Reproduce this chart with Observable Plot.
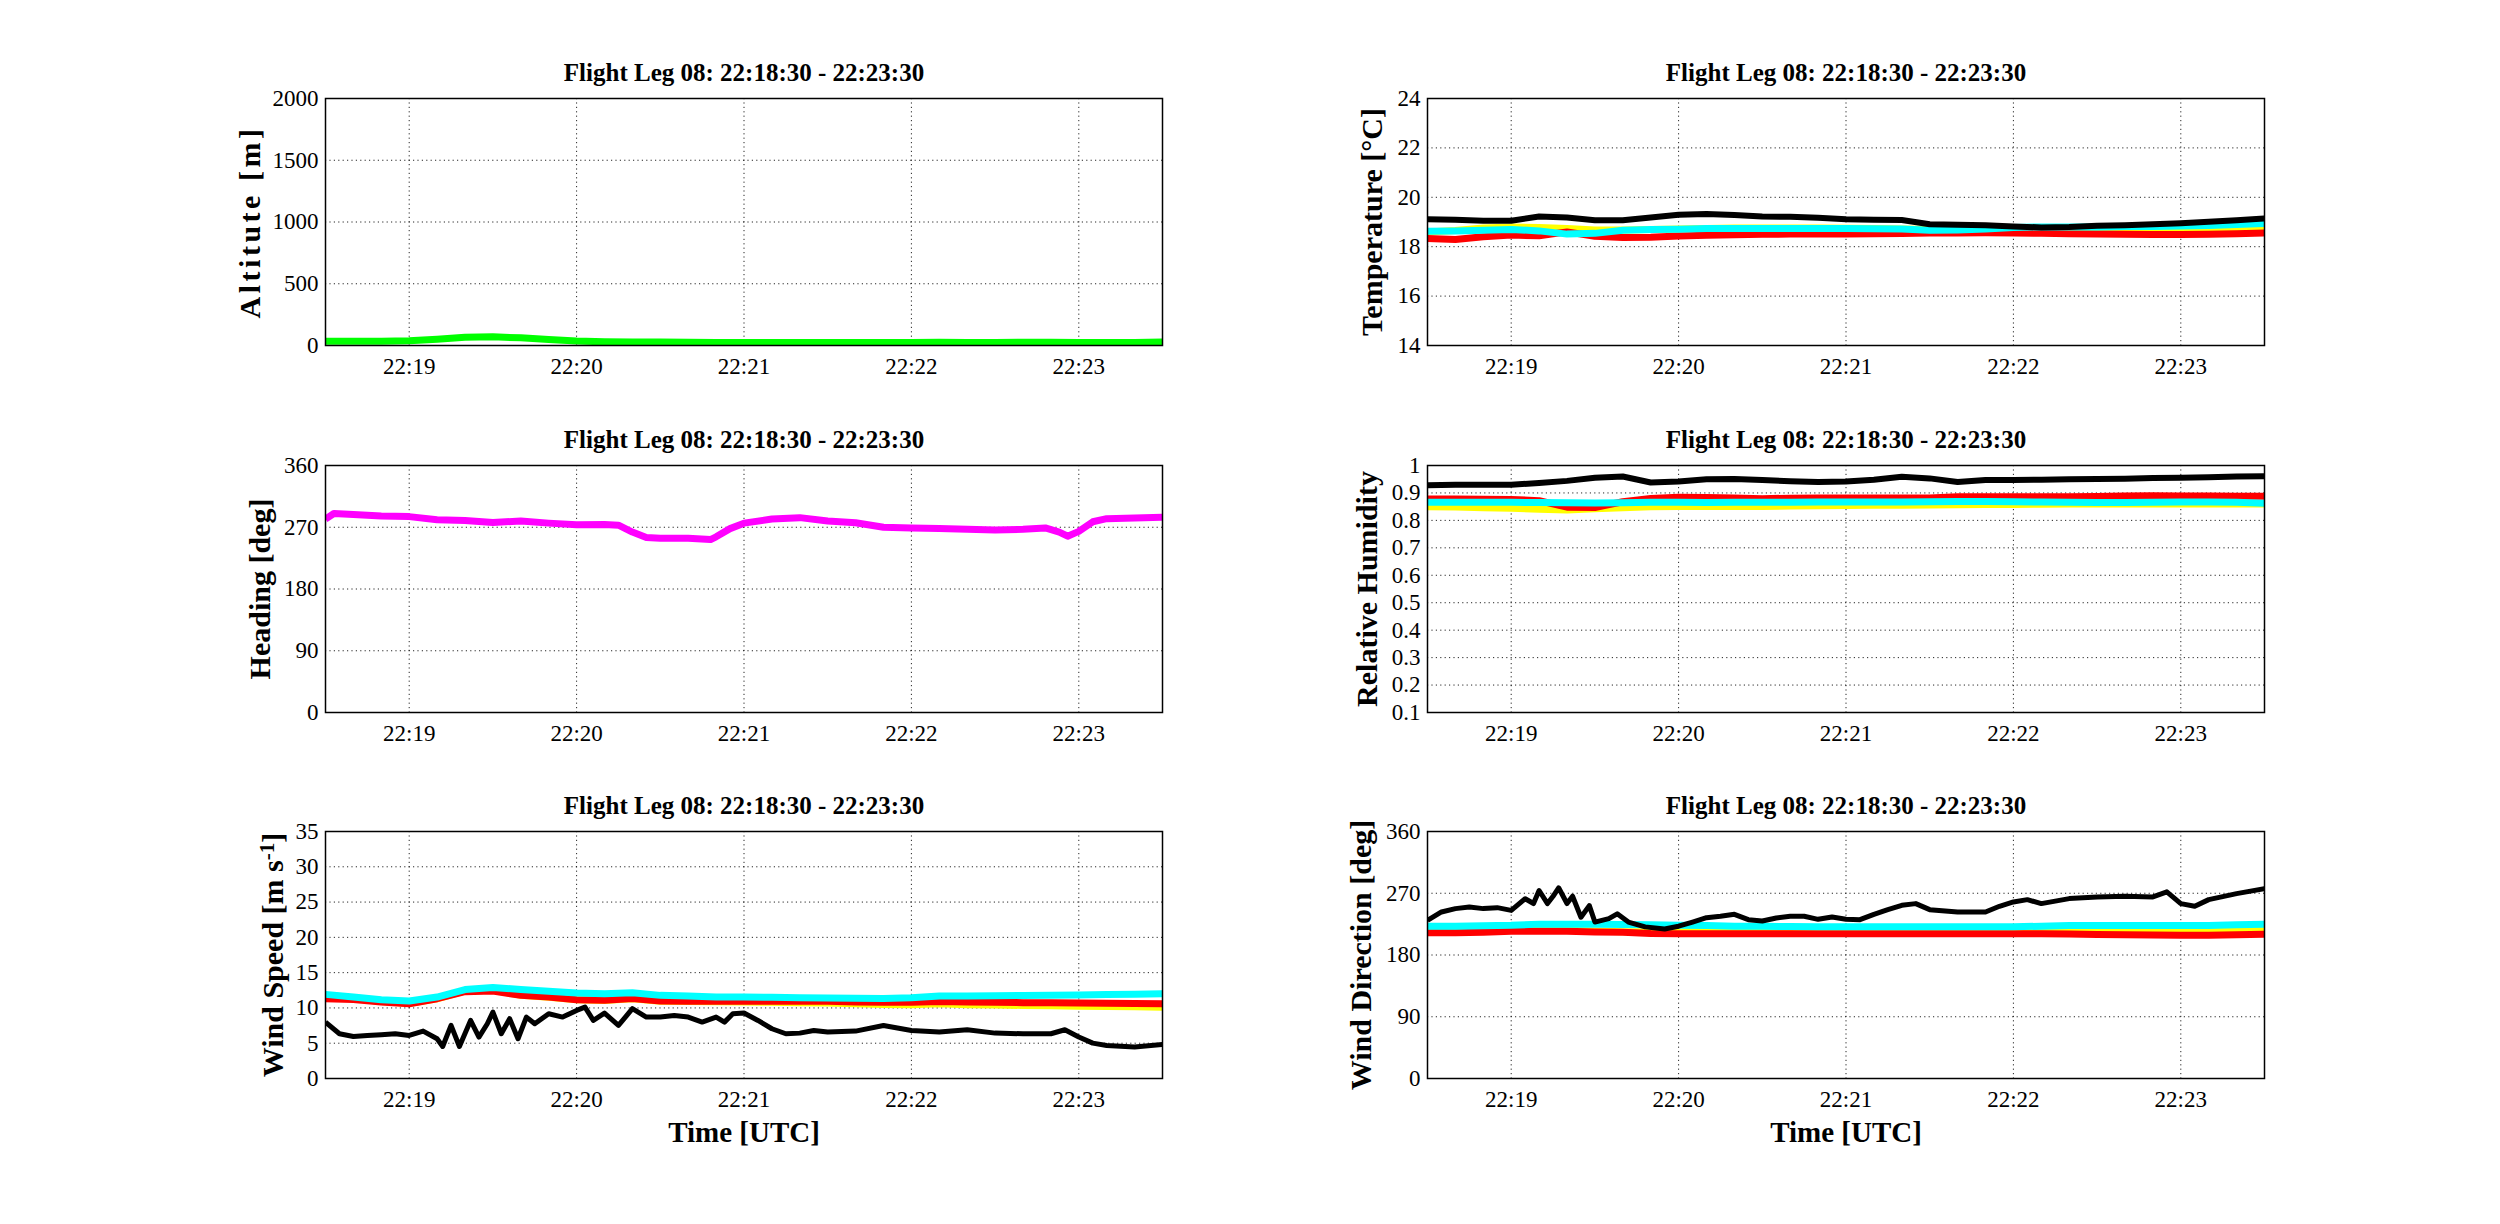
<!DOCTYPE html>
<html lang="en">
<head>
<meta charset="UTF-8">
<title>Flight Leg 08</title>
<script src="https://cdn.jsdelivr.net/npm/d3@7"></script>
<script src="https://cdn.jsdelivr.net/npm/@observablehq/plot@0.6"></script>
<style>
  body { margin: 0; background: #fff; }
  #page { position: relative; width: 2500px; height: 1224px; background: #fff; overflow: hidden; }
  .panel { position: absolute; }
</style>
</head>
<body>
<div id="page"></div>
<script>
// seconds after 22:18:30, and values
const legTitle = "Flight Leg 08: 22:18:30 - 22:23:30";
const minuteTicks = ["22:19", "22:20", "22:21", "22:22", "22:23"];

const sec10 = [0,10,20,30,40,50,60,70,80,90,100,110,120,130,140,150,160,170,180,190,200,210,220,230,240,250,260,270,280,290,300];

const altitude = [35,35,35,38,50,66,70,62,48,36,30,28,28,26,25,24,24,24,24,24,24,25,27,25,25,26,26,25,24,25,28];

const headingSec = [0,3,10,20,30,40,50,60,70,80,90,100,105,110,115,120,130,138,140,145,150,160,170,180,190,200,210,220,230,240,250,258,263,266,270,275,280,290,300];
const heading = [282,290,288.5,286.5,285.5,281,280,277,279,276,273.5,274,273,263,255,254,254,252,256,268,276,282,284,279,276.5,270,269,268,267,266,267,269,263,257,264,278,282.5,283.5,284.5];

const tempBlack  = [19.11,19.09,19.05,19.05,19.22,19.18,19.07,19.07,19.18,19.29,19.32,19.28,19.22,19.21,19.17,19.11,19.09,19.08,18.91,18.89,18.87,18.82,18.78,18.80,18.85,18.87,18.91,18.95,19.01,19.07,19.14];
const tempCyan   = [18.63,18.64,18.67,18.70,18.64,18.51,18.54,18.67,18.70,18.71,18.74,18.74,18.74,18.74,18.74,18.74,18.73,18.72,18.67,18.68,18.72,18.78,18.80,18.80,18.80,18.82,18.82,18.84,18.86,18.90,18.94];
const tempYellow = [18.60,18.66,18.76,18.80,18.78,18.74,18.68,18.68,18.70,18.72,18.74,18.76,18.76,18.76,18.76,18.75,18.74,18.72,18.70,18.68,18.68,18.68,18.68,18.68,18.68,18.70,18.70,18.72,18.74,18.76,18.78];
const tempRed    = [18.33,18.29,18.40,18.47,18.44,18.60,18.42,18.37,18.38,18.43,18.46,18.48,18.50,18.51,18.51,18.51,18.52,18.53,18.55,18.55,18.56,18.55,18.54,18.52,18.51,18.50,18.49,18.49,18.50,18.52,18.56];

const rhBlack  = [0.928,0.930,0.930,0.930,0.936,0.944,0.955,0.960,0.938,0.942,0.950,0.951,0.947,0.943,0.940,0.942,0.948,0.959,0.953,0.940,0.947,0.947,0.948,0.950,0.951,0.952,0.954,0.955,0.957,0.960,0.961];
const rhRed    = [0.878,0.878,0.877,0.876,0.872,0.848,0.847,0.868,0.880,0.884,0.883,0.882,0.879,0.881,0.882,0.882,0.882,0.882,0.882,0.886,0.886,0.886,0.886,0.886,0.887,0.889,0.890,0.889,0.889,0.888,0.888];
const rhCyan   = [0.866,0.866,0.866,0.866,0.865,0.864,0.863,0.864,0.866,0.866,0.865,0.866,0.866,0.866,0.867,0.867,0.867,0.867,0.868,0.869,0.869,0.868,0.867,0.866,0.865,0.865,0.866,0.867,0.867,0.866,0.862];
const rhYellow = [0.850,0.849,0.846,0.844,0.841,0.838,0.842,0.846,0.850,0.851,0.851,0.851,0.851,0.852,0.853,0.854,0.855,0.855,0.856,0.857,0.858,0.858,0.859,0.860,0.860,0.860,0.860,0.860,0.860,0.860,0.860];

const wsCyan   = [11.92,11.54,11.16,10.97,11.54,12.60,12.90,12.60,12.35,12.11,12.01,12.16,11.78,11.68,11.54,11.54,11.50,11.45,11.40,11.38,11.35,11.44,11.68,11.70,11.73,11.75,11.78,11.82,11.92,11.95,12.01];
const wsRed    = [11.31,11.20,10.83,10.60,11.31,12.30,12.40,11.78,11.54,11.16,11.10,11.35,10.97,10.95,10.93,10.93,10.93,10.93,10.93,10.85,10.79,10.79,10.90,10.85,10.79,10.75,10.72,10.69,10.65,10.62,10.60];
const wsYellow = [11.50,11.30,10.90,10.62,11.30,12.40,12.50,11.80,11.50,11.15,11.05,11.30,10.95,10.90,10.88,10.85,10.80,10.75,10.70,10.60,10.50,10.45,10.60,10.45,10.40,10.35,10.30,10.25,10.20,10.15,10.10];
const wsBlackSec = [0,5,10,15,20,25,30,35,40,42,45,48,52,55,58,60,63,66,69,72,75,80,85,90,93,96,100,105,110,115,120,125,130,135,140,143,146,150,155,160,165,170,175,180,190,200,210,220,230,240,250,260,265,270,275,280,290,300];
const wsBlack = [7.99,6.34,5.96,6.10,6.20,6.34,6.10,6.72,5.63,4.54,7.52,4.54,8.23,5.87,7.76,9.41,6.34,8.47,5.63,8.70,7.76,9.18,8.70,9.65,10.12,8.23,9.27,7.52,9.89,8.70,8.70,8.94,8.70,7.99,8.70,7.99,9.18,9.27,8.23,7.05,6.34,6.43,6.81,6.58,6.72,7.52,6.81,6.58,6.91,6.43,6.34,6.34,6.91,5.87,5.01,4.68,4.45,4.82];

const wdCyan   = [221.8,222,222.5,223.2,225,225,225,224.5,224,223.5,223,222,221.8,221.5,221,221,221,221,221,221,221,221,222,223,223,223,223,223,223,224,224.7];
const wdRed    = [212.5,212.5,213,214.5,214.5,214.5,213.5,213,211.5,211.1,211.1,211.1,211.1,211.1,211.1,211.1,211.1,211.1,211.1,211.1,211.1,211,210.8,210.5,210,209.5,209,208.7,208.7,209.5,210.1];
const wdYellow = [215,215,215,216,216,216,215,214,214,214,214,214,214,214,214,214,214,214,214,214,214,214,214,215,215,216,216,217,217,217,217];
const wdBlackSec = [0,5,10,15,20,25,30,35,38,40,43,45,47,50,52,55,58,60,65,68,72,78,85,90,95,100,105,110,115,120,125,130,135,140,145,150,155,160,165,170,175,180,190,200,205,210,215,220,230,240,250,260,265,270,275,280,290,300];
const wdBlack = [230.5,242.7,247.6,250,247.6,249,245,262,255,274,255,265.6,278,255,265.6,235,252,228,233,240,228,221,218,222,228,234.4,236.4,239.3,231.5,229.6,234,236.4,236.4,232,235.4,232,231.5,239.3,246.1,252.4,254.9,246.1,242.7,242.7,251,257.3,260.7,254.9,262.2,264.6,265.6,264.6,272,254.9,251,260.7,269.5,276.8];

const t0 = Date.UTC(2013, 0, 1, 22, 18, 30);
const toDate = s => new Date(t0 + s * 1000);
const xTicks = minuteTicks.map(m => new Date(Date.UTC(2013, 0, 1, +m.slice(0, 2), +m.slice(3))));
const series = (secs, vals, color, w) => ({data: secs.map((s, i) => ({t: toDate(s), v: vals[i]})), color, w});

const fontFamily = "'Liberation Serif', 'Times New Roman', serif";
const frameW = 837, frameH = 247;
const mL = 200, mR = 25, mT = 60, mB = 80;

function panel({left, top, yLabel, labelDx, labelSpacing = 0, yDomain, yTicks, yFormat = d => String(d), lines, xLabel}) {
  const grid = {stroke: "#000", strokeOpacity: 0.85, strokeWidth: 1, strokeDasharray: "1.2,3.2"};
  const chart = Plot.plot({
    width: mL + frameW + mR,
    height: mT + frameH + mB,
    marginLeft: mL, marginRight: mR, marginTop: mT, marginBottom: mB,
    style: {fontFamily, background: "transparent", color: "#000", overflow: "visible"},
    x: {type: "utc", domain: [toDate(0), toDate(300)]},
    y: {domain: yDomain},
    marks: [
      Plot.gridX(xTicks, grid),
      Plot.gridY(yTicks, grid),
      ...lines.map(l => Plot.line(l.data, {x: "t", y: "v", stroke: l.color, strokeWidth: l.w, strokeLinecap: "butt", clip: true})),
      Plot.frame({stroke: "#000", strokeWidth: 1.5}),
      Plot.axisX(xTicks, {tickSize: 0, tickPadding: 12, tickFormat: d3.utcFormat("%H:%M"), fontSize: 23, label: null}),
      Plot.axisY(yTicks, {tickSize: 0, tickPadding: 7, tickFormat: yFormat, fontSize: 23, label: null}),
      Plot.text([legTitle], {frameAnchor: "top", lineAnchor: "middle", textAnchor: "middle", dy: -26, fontSize: 25, fontWeight: "bold"}),
      Plot.text([yLabel], {frameAnchor: "left", lineAnchor: "middle", textAnchor: "middle", rotate: -90, dx: labelDx, fontSize: 30, fontWeight: "bold"}),
      xLabel ? Plot.text([xLabel], {frameAnchor: "bottom", lineAnchor: "middle", textAnchor: "middle", dy: 54, fontSize: 29, fontWeight: "bold"}) : null
    ]
  });
  if (labelSpacing) {
    d3.select(chart).selectAll("text")
      .filter(function () { return this.textContent === yLabel; })
      .attr("letter-spacing", labelSpacing);
  }
  const div = document.createElement("div");
  div.className = "panel";
  div.style.left = (left - mL) + "px";
  div.style.top = (top - mT) + "px";
  div.appendChild(chart);
  document.getElementById("page").appendChild(div);
  return chart;
}

const leftX = 325, rightX = 1427;
const rowY = [98, 465, 831];

panel({left: leftX, top: rowY[0], yLabel: "Altitute [m]", labelDx: -75, labelSpacing: 3.5,
  yDomain: [0, 2000], yTicks: [0, 500, 1000, 1500, 2000],
  lines: [series(sec10, altitude, "#00ff00", 7)]});

panel({left: leftX, top: rowY[1], yLabel: "Heading [deg]", labelDx: -65,
  yDomain: [0, 360], yTicks: [0, 90, 180, 270, 360],
  lines: [series(headingSec, heading, "#ff00ff", 7)]});

const ws = panel({left: leftX, top: rowY[2], yLabel: "Wind Speed [m s-1]", labelDx: -52,
  yDomain: [0, 35], yTicks: [0, 5, 10, 15, 20, 25, 30, 35], xLabel: "Time [UTC]",
  lines: [series(sec10, wsYellow, "#ffff00", 7), series(sec10, wsRed, "#ff0000", 7),
          series(sec10, wsCyan, "#00ffff", 7), series(wsBlackSec, wsBlack, "#000", 5)]});

panel({left: rightX, top: rowY[0], yLabel: "Temperature [°C]", labelDx: -55,
  yDomain: [14, 24], yTicks: [14, 16, 18, 20, 22, 24],
  lines: [series(sec10, tempYellow, "#ffff00", 7), series(sec10, tempRed, "#ff0000", 7),
          series(sec10, tempCyan, "#00ffff", 7), series(sec10, tempBlack, "#000", 6)]});

panel({left: rightX, top: rowY[1], yLabel: "Relative Humidity", labelDx: -60,
  yDomain: [0.1, 1], yTicks: [0.1, 0.2, 0.3, 0.4, 0.5, 0.6, 0.7, 0.8, 0.9, 1],
  yFormat: d => d === 1 ? "1" : d.toFixed(1),
  lines: [series(sec10, rhYellow, "#ffff00", 7), series(sec10, rhRed, "#ff0000", 7),
          series(sec10, rhCyan, "#00ffff", 7), series(sec10, rhBlack, "#000", 6)]});

panel({left: rightX, top: rowY[2], yLabel: "Wind Direction [deg]", labelDx: -66,
  yDomain: [0, 360], yTicks: [0, 90, 180, 270, 360], xLabel: "Time [UTC]",
  lines: [series(sec10, wdYellow, "#ffff00", 7), series(sec10, wdRed, "#ff0000", 7),
          series(sec10, wdCyan, "#00ffff", 7), series(wdBlackSec, wdBlack, "#000", 5)]});

// superscript -1 in the wind speed unit
d3.select(ws).selectAll("text")
  .filter(function () { return this.textContent === "Wind Speed [m s-1]"; })
  .each(function () {
    const t = d3.select(this).text(null);
    t.append("tspan").text("Wind Speed [m s");
    t.append("tspan").attr("dy", "-0.45em").attr("font-size", "0.7em").text("-1");
    t.append("tspan").attr("dy", "0.32em").text("]");
  });
</script>
</body>
</html>
